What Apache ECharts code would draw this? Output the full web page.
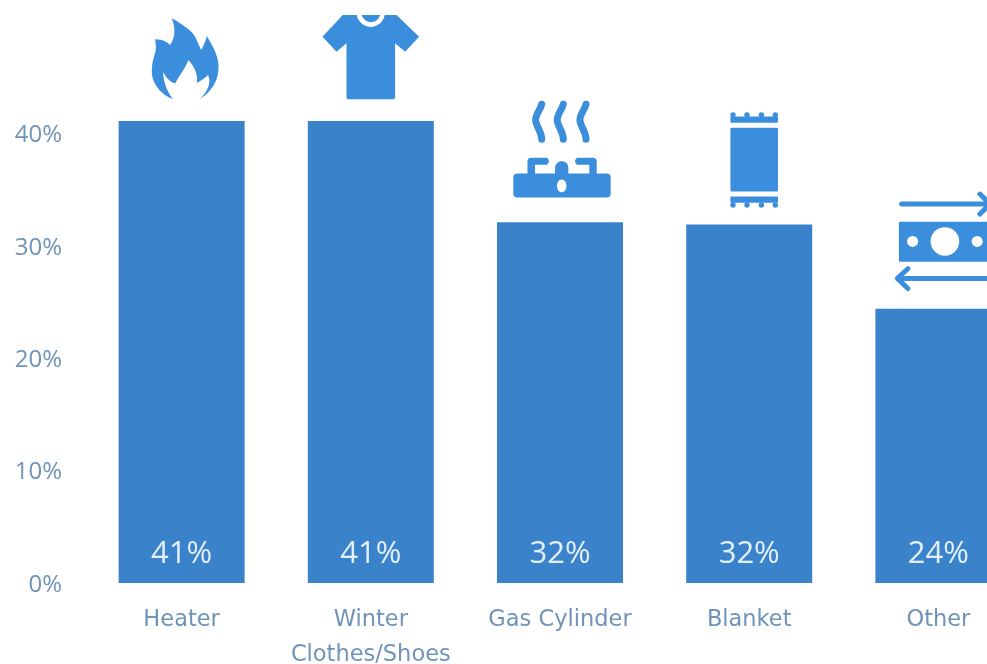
<!DOCTYPE html>
<html><head><meta charset="utf-8">
<style>html,body{margin:0;padding:0;background:#fff}#c{width:987px;height:664px}</style>
<script src="https://cdn.jsdelivr.net/npm/echarts@6/dist/echarts.min.js"></script>
</head><body><div id="c"></div>
<script>
const categories = ['Heater', 'Winter\nClothes/Shoes', 'Gas Cylinder', 'Blanket', 'Other'];
const values = [41.1, 41.1, 32.1, 31.9, 24.4];
const valueLabels = ['41%', '41%', '32%', '32%', '24%'];
const tickStep = 10;
const tickMax = 50;

const barColor = '#3a83cb', iconColor = '#3a8edc', axisText = '#6f94b8';
const fontFamily = '"Open Sans", sans-serif';

function P(d, c) { return { type: 'path', shape: { pathData: d }, style: { fill: c || iconColor } }; }
function S(d, w) { return { type: 'path', shape: { pathData: d }, style: { fill: 'none', stroke: iconColor, lineWidth: w, lineCap: 'round', lineJoin: 'round' } }; }
function C(x, y, r, c) { return { type: 'circle', shape: { cx: x, cy: y, r: r }, style: { fill: c || '#fff' } }; }
function E(x, y, rx, ry, c) { return { type: 'ellipse', shape: { cx: x, cy: y, rx: rx, ry: ry }, style: { fill: c || '#fff' } }; }
function R(x, y, w, h, r) { return { type: 'rect', shape: { x: x, y: y, width: w, height: h, r: r || 0 }, style: { fill: iconColor } }; }

const wave = (x) => `M${x},-118 C${x-1},-112 ${x-7},-108 ${x-6},-101 C${x-5},-95 ${x},-90 ${x},-83`;
const bump = (x, y) => C(x, y, 2.7, iconColor);

const icons = [
  () => [P('M-9.8,-102.7 C4,-95 13,-88 15,-81 L19.5,-71 C22,-75 24,-80 25.2,-85 C33,-72 38,-62 36.8,-51 C36,-38 28,-28 18.5,-22 C26,-30 30,-38 26.5,-46 C24,-43 20,-41 15.2,-38 C17,-47 12,-55 6.8,-61 C4,-53 -2,-46 -6.5,-37.5 C-12,-39 -16,-44 -18.2,-49 C-19,-42 -15,-30 -8.8,-22 C-20,-26 -30,-38 -29.8,-49.3 C-30,-57 -28,-63 -26.5,-68 C-25,-72 -26,-78 -26.5,-81.7 C-20,-82 -14,-79 -11.5,-76 C-6,-84 -6,-92 -9.8,-102.7 Z')],
  () => [
    P('M-28,-106 L-48.3,-84.3 L-34.3,-69.3 L-24.3,-77.7 L-24.3,-23.5 Q-24.3,-21.7 -22.5,-21.7 L22.5,-21.7 Q24.3,-21.7 24.3,-23.5 L24.3,-77.7 L34.3,-69.3 L48.3,-84.3 L25.7,-106 Z'),
    P('M-14,-106 A14.2,14.2 0 0 0 14,-106 Z', '#fff'),
    P('M-9.2,-106 A9.5,9.5 0 0 0 9.2,-106 Z')
  ],
  () => [
    S(wave(-18.3), 7), S(wave(3.3), 7), S(wave(26), 7),
    R(-46.7, -48.7, 97.4, 24, 4),
    P('M-32.5,-48 L-32.5,-61 Q-32.5,-64.5 -29,-64.5 L-13,-64.5 Q-9,-61 -13,-57.5 L-25,-57.5 L-25,-48 Z'),
    P('M36.7,-48 L36.7,-61 Q36.7,-64.5 33,-64.5 L17,-64.5 Q13,-61 17,-57.5 L29.3,-57.5 L29.3,-48 Z'),
    P('M-5,-48 L-5,-55 A6.7,6.7 0 0 1 8.3,-55 L8.3,-48 Z'),
    E(1.7, -36.3, 4.7, 6.3)
  ],
  () => {
    const xs = [-16.2, -2.2, 12.2, 26.1];
    return [
      R(-18.8, -96.7, 47.6, 63.7, 1.5),
      R(-18.8, -108, 47.6, 6.3, 1),
      R(-18.8, -28, 47.6, 6.3, 1),
      ...xs.map((x) => bump(x, -109.6)),
      ...xs.map((x) => bump(x, -19.4))
    ];
  },
  () => [
    S('M-36.8,-104.7 L50,-104.7', 5),
    S('M41.5,-114.7 L51.5,-104.7 L41.5,-94.7', 5),
    R(-39.5, -87, 92, 40, 1),
    C(6.5, -67.3, 14.3), C(-25.8, -67.3, 5.5), C(38.8, -67.3, 5.5),
    S('M-40,-30.3 L50,-30.3', 5),
    S('M-30.5,-40 L-41,-30.3 L-30.5,-20.3', 5)
  ]
];

const chart = echarts.init(document.getElementById('c'), null, { renderer: 'canvas' });
chart.setOption({
  animation: false,
  backgroundColor: '#fff',
  grid: { left: 87, top: 21, width: 946, height: 562, containLabel: false, outerBoundsMode: 'none' },
  xAxis: {
    type: 'category', data: categories,
    axisLine: { show: false }, axisTick: { show: false },
    axisLabel: { interval: 0, color: axisText, fontFamily: '"DejaVu Sans", sans-serif', fontSize: 22.5, lineHeight: 35, margin: 20 }
  },
  yAxis: {
    type: 'value', min: 0, max: tickMax, interval: tickStep,
    splitLine: { show: false }, axisLine: { show: false }, axisTick: { show: false },
    axisLabel: { color: axisText, fontFamily, fontSize: 24, margin: 25, verticalAlign: 'top', lineHeight: 4, showMaxLabel: false, formatter: (v) => v + '%' }
  },
  series: [
    {
      type: 'bar', data: values, barWidth: '66.6%',
      itemStyle: { color: barColor },
      label: {
        show: true, position: 'insideBottom', distance: 13,
        color: '#e3f0fb', fontFamily, fontSize: 31,
        formatter: (p) => valueLabels[p.dataIndex]
      }
    },
    {
      type: 'custom', data: values.map((v, i) => [i, v]), clip: false, silent: true, z: 5,
      renderItem: (params, api) => {
        const p = api.coord([api.value(0), api.value(1)]);
        return { type: 'group', x: p[0], y: p[1], children: icons[params.dataIndex]() };
      }
    }
  ]
});
</script></body></html>
